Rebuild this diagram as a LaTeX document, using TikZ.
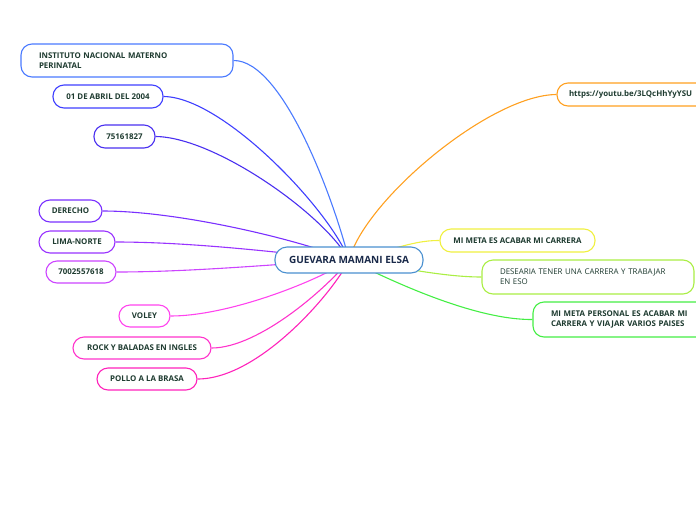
\documentclass[tikz,border=0pt]{standalone}
\usepackage{fontspec}
\setmainfont{Open Sans}
\begin{document}
\begin{tikzpicture}[x=1pt,y=-1pt,
  leaf/.style={draw=#1, line width=1.1pt, rounded corners=11pt, fill=white, inner sep=0pt,
    font=\fontsize{7.9}{10}\selectfont\bfseries, text=txt, minimum height=23pt},
  conn/.style={draw=#1, line width=1.1pt},
]
\definecolor{txt}{HTML}{1E3B30}
\definecolor{ctxt}{HTML}{1A2A4A}
\definecolor{cA}{HTML}{4A7AFF}
\definecolor{cB}{HTML}{3F3FFF}
\definecolor{cC}{HTML}{4A30F0}
\definecolor{cD}{HTML}{7A30FF}
\definecolor{cE}{HTML}{9933FF}
\definecolor{cF}{HTML}{CC44FF}
\definecolor{cG}{HTML}{FF44EE}
\definecolor{cH}{HTML}{FF33CC}
\definecolor{cI}{HTML}{FF22BB}
\definecolor{cJ}{HTML}{FFA020}
\definecolor{cK}{HTML}{F0F040}
\definecolor{cL}{HTML}{AAEE44}
\definecolor{cM}{HTML}{44EE44}
\definecolor{cCen}{HTML}{4A90D0}
\useasboundingbox (0,0) rectangle (696,520);
\coordinate (c) at (349,260);
% left nodes
\node[leaf=cA, minimum width=212pt, minimum height=33pt, text width=176pt, align=left] (n1) at (127,60.5) {INSTITUTO NACIONAL MATERNO\\PERINATAL};
\node[leaf=cB, minimum width=110pt] (n2) at (108,96.5) {01 DE ABRIL DEL 2004};
\node[leaf=cC, minimum width=61pt] (n3) at (124.5,136.5) {75161827};
\node[leaf=cD, minimum width=63pt, minimum height=22pt] (n4) at (70.5,211) {DERECHO};
\node[leaf=cE, minimum width=76pt, minimum height=22pt] (n5) at (77,242) {LIMA-NORTE};
\node[leaf=cF, minimum width=70pt, minimum height=22pt] (n6) at (81,272) {7002557618};
\node[leaf=cG, minimum width=51pt, minimum height=22pt] (n7) at (144.5,316) {VOLEY};
\node[leaf=cH, minimum width=138pt, minimum height=22pt] (n8) at (142,348) {ROCK Y BALADAS EN INGLES};
\node[leaf=cI, minimum width=100pt, minimum height=22pt] (n9) at (147,379) {POLLO A LA BRASA};
% right nodes
\node[leaf=cJ, minimum width=190pt, text width=166pt, align=left] (n10) at (652,94.5) {https://youtu.be/3LQcHhYyYSU};
\node[leaf=cK, minimum width=155pt] (n11) at (517.5,240.5) {MI META ES ACABAR MI CARRERA};
\node[leaf=cL, minimum width=212pt, minimum height=34pt, text width=176pt, align=left, font=\fontsize{7.9}{10}\selectfont] (n12) at (588,277) {DESEARIA TENER UNA CARRERA Y TRABAJAR\\EN ESO};
\node[leaf=cM, minimum width=212pt, minimum height=35pt, text width=176pt, align=left] (n13) at (639,319.5) {MI META PERSONAL ES ACABAR MI\\CARRERA Y VIAJAR VARIOS PAISES};
% connectors
\draw[conn=cA] (n1.east) .. controls (283,60) and (334,200) .. (c);
\draw[conn=cB] (n2.east) .. controls (223,97) and (330,210) .. (c);
\draw[conn=cC] (n3.east) .. controls (215,137) and (325,215) .. (c);
\draw[conn=cD] (n4.east) .. controls (180,211) and (300,240) .. (c);
\draw[conn=cE] (n5.east) .. controls (200,242) and (300,255) .. (c);
\draw[conn=cF] (n6.east) .. controls (200,272) and (300,262) .. (c);
\draw[conn=cG] (n7.east) .. controls (230,316) and (320,280) .. (c);
\draw[conn=cH] (n8.east) .. controls (260,348) and (330,285) .. (c);
\draw[conn=cI] (n9.east) .. controls (260,379) and (335,290) .. (c);
\draw[conn=cJ] (n10.west) .. controls (490,95) and (365,200) .. (c);
\draw[conn=cK] (n11.west) .. controls (410,240) and (380,255) .. (c);
\draw[conn=cL] (n12.west) .. controls (440,277) and (390,265) .. (c);
\draw[conn=cM] (n13.west) .. controls (470,320) and (380,275) .. (c);
% central
\node[draw=cCen, line width=1.1pt, rounded corners=12pt, fill=white, minimum width=148pt, minimum height=26pt, inner sep=0pt, font=\fontsize{10}{12}\selectfont\bfseries, text=ctxt] (cen) at (c) {GUEVARA MAMANI ELSA};
\end{tikzpicture}
\end{document}
